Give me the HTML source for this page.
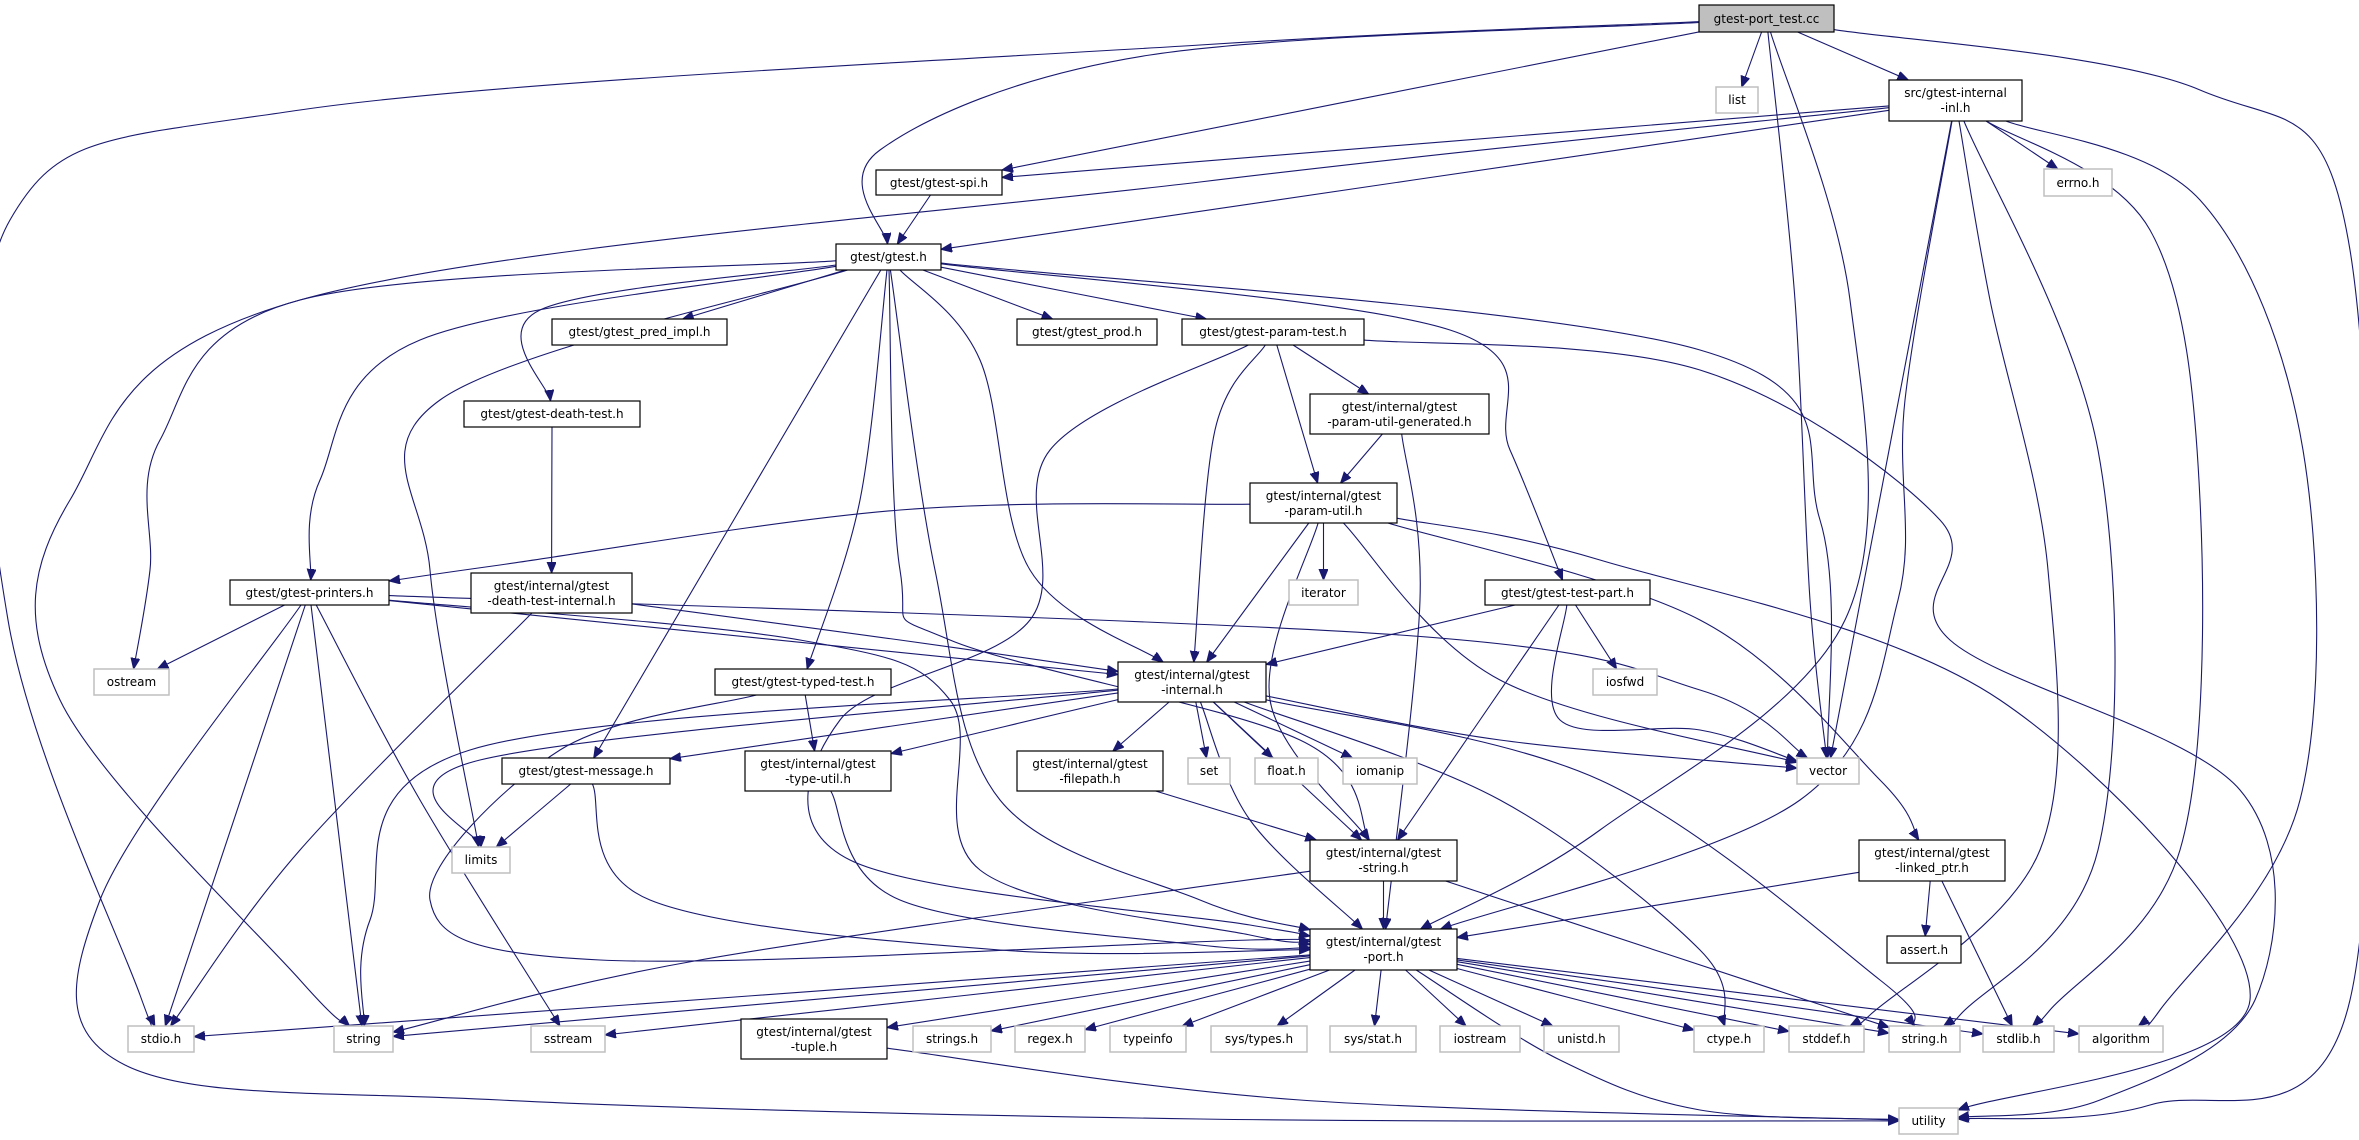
<!DOCTYPE html>
<html><head><meta charset="utf-8"><style>
html,body{margin:0;padding:0;background:#fff;}
svg{display:block;}
text{font-family:"DejaVu Sans","Liberation Sans",sans-serif;font-size:12px;fill:#000;text-anchor:middle;}
.g rect{fill:#fff;stroke:#bfbfbf;stroke-width:1.5;}
.b rect{fill:#fff;stroke:#000;stroke-width:1.2;}
.r rect{fill:#bfbfbf;stroke:#000;stroke-width:1.2;}
path.e{fill:none;stroke:#191970;stroke-width:1.1;}
</style></head><body>
<svg id="s" width="2359" height="1140" viewBox="0 0 2359 1140" xmlns="http://www.w3.org/2000/svg">
<defs><marker id="ah" markerUnits="userSpaceOnUse" markerWidth="12" markerHeight="10" refX="11" refY="4.5" orient="auto"><path d="M0,0 L11,4.5 L0,9 z" fill="#191970" stroke="#191970"/></marker></defs>
<g id="edges"></g>
<g id="nodes">
<g class="r"><rect x="1699" y="5" width="135" height="27"/><text x="1766.5" y="23">gtest-port_test.cc</text></g>
<g class="g"><rect x="1716" y="87" width="42" height="26"/><text x="1737" y="104">list</text></g>
<g class="b"><rect x="1889" y="80" width="133" height="41"/><text x="1955.5" y="97">src/gtest-internal</text><text x="1955.5" y="112">-inl.h</text></g>
<g class="g"><rect x="2044" y="169" width="68" height="27"/><text x="2078" y="187">errno.h</text></g>
<g class="b"><rect x="876" y="170" width="126" height="25"/><text x="939" y="187">gtest/gtest-spi.h</text></g>
<g class="b"><rect x="836" y="244" width="105" height="26"/><text x="888.5" y="261">gtest/gtest.h</text></g>
<g class="b"><rect x="552" y="319" width="175" height="26"/><text x="639.5" y="336">gtest/gtest_pred_impl.h</text></g>
<g class="b"><rect x="1017" y="319" width="140" height="26"/><text x="1087" y="336">gtest/gtest_prod.h</text></g>
<g class="b"><rect x="1182" y="319" width="182" height="26"/><text x="1273" y="336">gtest/gtest-param-test.h</text></g>
<g class="b"><rect x="1310" y="394" width="179" height="40"/><text x="1399.5" y="411">gtest/internal/gtest</text><text x="1399.5" y="426">-param-util-generated.h</text></g>
<g class="b"><rect x="464" y="401" width="176" height="26"/><text x="552" y="418">gtest/gtest-death-test.h</text></g>
<g class="b"><rect x="1250" y="483" width="147" height="40"/><text x="1323.5" y="500">gtest/internal/gtest</text><text x="1323.5" y="515">-param-util.h</text></g>
<g class="b"><rect x="230" y="580" width="159" height="25"/><text x="309.5" y="597">gtest/gtest-printers.h</text></g>
<g class="b"><rect x="471" y="573" width="161" height="40"/><text x="551.5" y="590">gtest/internal/gtest</text><text x="551.5" y="605">-death-test-internal.h</text></g>
<g class="g"><rect x="1289" y="580" width="69" height="25"/><text x="1323.5" y="597">iterator</text></g>
<g class="b"><rect x="1485" y="580" width="165" height="25"/><text x="1567.5" y="597">gtest/gtest-test-part.h</text></g>
<g class="g"><rect x="94" y="669" width="75" height="26"/><text x="131.5" y="686">ostream</text></g>
<g class="b"><rect x="715" y="669" width="176" height="26"/><text x="803" y="686">gtest/gtest-typed-test.h</text></g>
<g class="b"><rect x="1118" y="662" width="148" height="40"/><text x="1192" y="679">gtest/internal/gtest</text><text x="1192" y="694">-internal.h</text></g>
<g class="g"><rect x="1593" y="669" width="64" height="26"/><text x="1625" y="686">iosfwd</text></g>
<g class="b"><rect x="502" y="758" width="168" height="26"/><text x="586" y="775">gtest/gtest-message.h</text></g>
<g class="b"><rect x="745" y="751" width="146" height="40"/><text x="818" y="768">gtest/internal/gtest</text><text x="818" y="783">-type-util.h</text></g>
<g class="b"><rect x="1017" y="751" width="146" height="40"/><text x="1090" y="768">gtest/internal/gtest</text><text x="1090" y="783">-filepath.h</text></g>
<g class="g"><rect x="1188" y="758" width="42" height="26"/><text x="1209" y="775">set</text></g>
<g class="g"><rect x="1255" y="758" width="63" height="26"/><text x="1286.5" y="775">float.h</text></g>
<g class="g"><rect x="1343" y="758" width="74" height="26"/><text x="1380" y="775">iomanip</text></g>
<g class="g"><rect x="1797" y="758" width="62" height="26"/><text x="1828" y="775">vector</text></g>
<g class="g"><rect x="452" y="847" width="58" height="26"/><text x="481" y="864">limits</text></g>
<g class="b"><rect x="1310" y="840" width="147" height="41"/><text x="1383.5" y="857">gtest/internal/gtest</text><text x="1383.5" y="872">-string.h</text></g>
<g class="b"><rect x="1859" y="840" width="146" height="41"/><text x="1932" y="857">gtest/internal/gtest</text><text x="1932" y="872">-linked_ptr.h</text></g>
<g class="b"><rect x="1310" y="929" width="147" height="41"/><text x="1383.5" y="946">gtest/internal/gtest</text><text x="1383.5" y="961">-port.h</text></g>
<g class="b"><rect x="1887" y="936" width="74" height="27"/><text x="1924" y="954">assert.h</text></g>
<g class="g"><rect x="128" y="1026" width="66" height="26"/><text x="161" y="1043">stdio.h</text></g>
<g class="g"><rect x="334" y="1026" width="59" height="26"/><text x="363.5" y="1043">string</text></g>
<g class="g"><rect x="531" y="1026" width="74" height="26"/><text x="568" y="1043">sstream</text></g>
<g class="b"><rect x="741" y="1019" width="146" height="40"/><text x="814" y="1036">gtest/internal/gtest</text><text x="814" y="1051">-tuple.h</text></g>
<g class="g"><rect x="913" y="1026" width="78" height="26"/><text x="952" y="1043">strings.h</text></g>
<g class="g"><rect x="1015" y="1026" width="70" height="26"/><text x="1050" y="1043">regex.h</text></g>
<g class="g"><rect x="1110" y="1026" width="76" height="26"/><text x="1148" y="1043">typeinfo</text></g>
<g class="g"><rect x="1211" y="1026" width="96" height="26"/><text x="1259" y="1043">sys/types.h</text></g>
<g class="g"><rect x="1330" y="1026" width="86" height="26"/><text x="1373" y="1043">sys/stat.h</text></g>
<g class="g"><rect x="1440" y="1026" width="80" height="26"/><text x="1480" y="1043">iostream</text></g>
<g class="g"><rect x="1544" y="1026" width="75" height="26"/><text x="1581.5" y="1043">unistd.h</text></g>
<g class="g"><rect x="1694" y="1026" width="70" height="26"/><text x="1729" y="1043">ctype.h</text></g>
<g class="g"><rect x="1789" y="1026" width="75" height="26"/><text x="1826.5" y="1043">stddef.h</text></g>
<g class="g"><rect x="1889" y="1026" width="71" height="26"/><text x="1924.5" y="1043">string.h</text></g>
<g class="g"><rect x="1983" y="1026" width="71" height="26"/><text x="2018.5" y="1043">stdlib.h</text></g>
<g class="g"><rect x="2079" y="1026" width="84" height="26"/><text x="2121" y="1043">algorithm</text></g>
<g class="g"><rect x="1899" y="1108" width="59" height="26"/><text x="1928.5" y="1125">utility</text></g>
</g>
</svg>
<script>
var N={pt:[1699,5,1834,32],list:[1716,87,1758,113],inl:[1889,80,2022,121],errno:[2044,169,2112,196],spi:[876,170,1002,195],gtest:[836,244,941,270],pred:[552,319,727,345],prod:[1017,319,1157,345],param:[1182,319,1364,345],gen:[1310,394,1489,434],dt:[464,401,640,427],pu:[1250,483,1397,523],pr:[230,580,389,605],dti:[471,573,632,613],iter:[1289,580,1358,605],tp:[1485,580,1650,605],ostream:[94,669,169,695],tt:[715,669,891,695],gi:[1118,662,1266,702],iosfwd:[1593,669,1657,695],msg:[502,758,670,784],tu:[745,751,891,791],fp:[1017,751,1163,791],set:[1188,758,1230,784],float:[1255,758,1318,784],iomanip:[1343,758,1417,784],vector:[1797,758,1859,784],limits:[452,847,510,873],gs:[1310,840,1457,881],lp:[1859,840,2005,881],port:[1310,929,1457,970],assert:[1887,936,1961,963],stdio:[128,1026,194,1052],string:[334,1026,393,1052],sstream:[531,1026,605,1052],tuple:[741,1019,887,1059],strings:[913,1026,991,1052],regex:[1015,1026,1085,1052],typeinfo:[1110,1026,1186,1052],systypes:[1211,1026,1307,1052],sysstat:[1330,1026,1416,1052],iostream:[1440,1026,1520,1052],unistd:[1544,1026,1619,1052],ctype:[1694,1026,1764,1052],stddef:[1789,1026,1864,1052],stringh:[1889,1026,1960,1052],stdlib:[1983,1026,2054,1052],algorithm:[2079,1026,2163,1052],utility:[1899,1108,1958,1134]};
var E=[
['pt','stdio',[[1200,45],[300,110],[10,220],[8,620],[140,995]]],
['pt','gtest',[[1150,55],[880,150]]],['pt','spi'],['pt','list'],['pt','inl'],
['pt','vector',[[1795,300],[1810,600]]],
['pt','port',[[1850,300],[1845,620],[1600,830]]],
['pt','utility',[[2200,90],[2350,250],[2350,1000],[2150,1105]]],
['inl','spi'],['inl','gtest'],
['inl','string',[[1200,182],[300,300],[70,500],[60,700],[300,980]]],
['inl','errno'],['inl','vector'],
['inl','port',[[1905,400],[1898,600],[1800,800]]],
['inl','stddef',[[1990,300],[2048,570],[2040,850],[1870,1015]]],
['inl','stringh',[[2098,450],[2098,850],[1960,1015]]],
['inl','stdlib',[[2150,230],[2200,500],[2180,850],[2050,1010]]],
['inl','algorithm',[[2200,200],[2303,450],[2300,800],[2160,1010]]],
['spi','gtest'],
['gtest','pred'],['gtest','prod'],['gtest','param'],
['gtest','tt',[[860,500]]],['gtest','msg'],
['gtest','tp',[[1450,330],[1510,450]]],
['gtest','vector',[[1700,350],[1820,520]]],
['gtest','dt',[[540,310]]],
['gtest','pr',[[420,340],[320,480]]],
['gtest','ostream',[[300,300],[160,440],[150,570]]],
['gtest','limits',[[440,400],[430,570]]],
['gtest','gi',[[980,360],[1030,570]]],
['gtest','port',[[935,570],[1000,800],[1200,900]]],
['gtest','gs',[[900,570],[950,640],[1300,740]]],
['param','gen'],['param','pu'],['param','gi',[[1215,430]]],
['param','port',[[1050,450],[1030,620],[840,720],[850,860],[1250,925]]],
['param','utility',[[1700,370],[1940,520],[1950,640],[2240,790],[2255,1000],[2100,1100]]],
['gen','pu'],['gen','port',[[1420,600]]],
['pu','pr',[[900,510],[500,565]]],['pu','gi'],['pu','iter'],
['pu','vector',[[1500,680]]],['pu','lp',[[1700,620],[1880,780]]],
['pu','utility',[[1600,560],[2000,700],[2250,1000]]],
['pu','gs',[[1270,700]]],
['dt','dti'],['dti','gi',[[900,640]]],['dti','stdio',[[300,850]]],
['pr','ostream'],['pr','stdio'],['pr','string'],['pr','sstream',[[420,800]]],
['pr','utility',[[100,900],[125,1065],[500,1100],[1200,1119]]],
['pr','gi'],['pr','port',[[800,640],[950,700],[980,870],[1250,935]]],
['pr','vector',[[1400,635],[1700,690]]],
['tp','gi'],['tp','gs'],['tp','iosfwd'],['tp','vector',[[1560,720],[1700,730]]],
['tt','tu'],['tt','port',[[560,750],[430,900],[600,960],[1250,940]]],
['gi','msg'],['gi','tu'],['gi','fp'],['gi','set'],['gi','float'],['gi','iomanip'],
['gi','vector',[[1500,740]]],['gi','limits',[[480,760]]],['gi','string',[[470,750],[370,920]]],
['gi','gs'],['gi','port',[[1250,820]]],['gi','ctype',[[1500,800],[1700,950]]],['gi','stringh',[[1600,780],[1880,980]]],
['msg','limits'],['msg','port',[[650,900],[1000,950]]],
['tu','port',[[900,900],[1200,945]]],
['fp','gs'],['gs','port'],['gs','string',[[700,960]]],['gs','stringh'],
['lp','port'],['lp','assert'],['lp','stdlib'],
['port','stdio'],['port','string'],['port','sstream'],['port','tuple'],['port','strings'],['port','regex'],['port','typeinfo'],['port','systypes'],['port','sysstat'],['port','iostream'],['port','unistd'],['port','ctype'],['port','stddef'],['port','stringh'],['port','stdlib'],['port','algorithm'],
['port','utility',[[1560,1060],[1700,1110]]],
['tuple','utility',[[1300,1100]]]
];
function ctr(b){return [(b[0]+b[2])/2,(b[1]+b[3])/2];}
function clip(b,from,to){var c=from,dx=to[0]-c[0],dy=to[1]-c[1];var hw=(b[2]-b[0])/2,hh=(b[3]-b[1])/2;var t=1e9;if(dx!==0)t=Math.min(t,hw/Math.abs(dx));if(dy!==0)t=Math.min(t,hh/Math.abs(dy));return [c[0]+dx*t,c[1]+dy*t];}
var g=document.getElementById('edges'),h='';
E.forEach(function(e){var A=N[e[0]],B=N[e[1]],w=e[2]||[];var ca=ctr(A),cb=ctr(B);
var p0=clip(A,ca,w.length?w[0]:cb),pn=clip(B,cb,w.length?w[w.length-1]:ca);
var pts=[p0].concat(w).concat([pn]);var d='M'+p0[0].toFixed(1)+','+p0[1].toFixed(1);
for(var i=0;i<pts.length-1;i++){var P0=pts[i-1]||pts[i],P1=pts[i],P2=pts[i+1],P3=pts[i+2]||P2;
var c1=[P1[0]+(P2[0]-P0[0])/6,P1[1]+(P2[1]-P0[1])/6],c2=[P2[0]-(P3[0]-P1[0])/6,P2[1]-(P3[1]-P1[1])/6];
d+=' C'+c1[0].toFixed(1)+','+c1[1].toFixed(1)+' '+c2[0].toFixed(1)+','+c2[1].toFixed(1)+' '+P2[0].toFixed(1)+','+P2[1].toFixed(1);}
h+='<path class="e" d="'+d+'" marker-end="url(#ah)"/>';});
g.innerHTML=h;
</script>
</body></html>
